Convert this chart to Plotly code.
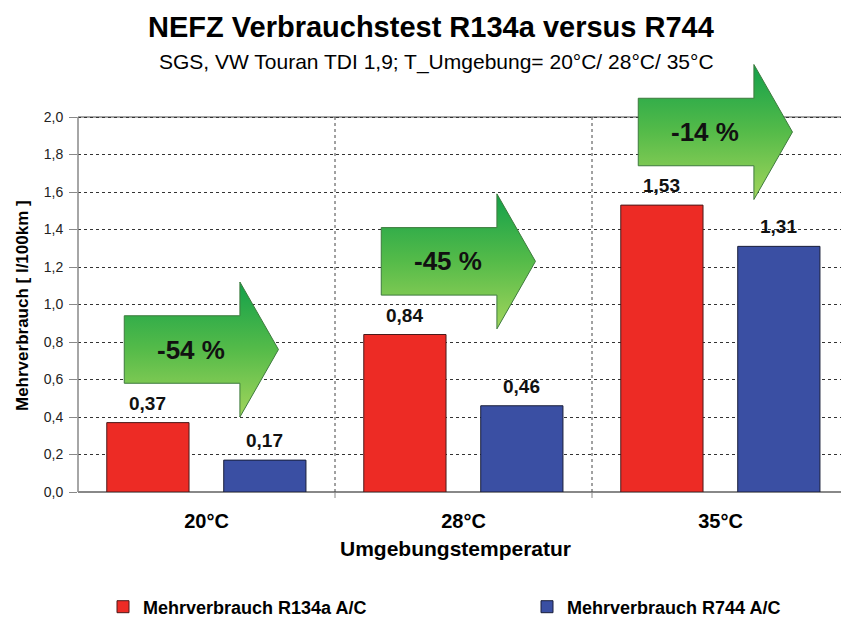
import plotly.graph_objects as go

categories = ["20°C", "28°C", "35°C"]
r134a = [0.37, 0.84, 1.53]
r744 = [0.17, 0.46, 1.31]
series_names = ["Mehrverbrauch R134a A/C", "Mehrverbrauch R744 A/C"]
y_ticks = [0.0, 0.2, 0.4, 0.6, 0.8, 1.0, 1.2, 1.4, 1.6, 1.8, 2.0]

SANS = "Liberation Sans, Arial, sans-serif"

W, H = 841, 617
ML, MR, MT, MB = 78, 0, 60, 125
cat_px = 257.0
plot_w = W - ML - MR
plot_h = H - MT - MB
y_top = plot_h / 187.5
x_max = -0.5 + plot_w / cat_px


def px_x(px):
    return (px - ML) / plot_w


def px_y(py):
    return (H - MB - py) / plot_h


BAR_W = 0.32
OFF_RED = -0.388
OFF_BLUE = 0.067

xs = list(range(len(categories)))
fig = go.Figure()
fig.add_trace(go.Bar(x=xs, y=r134a, name=series_names[0], width=BAR_W, offset=OFF_RED,
                     legend="legend",
                     marker=dict(color="#ED2B25", line=dict(color="#4a1a1a", width=1))))
fig.add_trace(go.Bar(x=xs, y=r744, name=series_names[1], width=BAR_W, offset=OFF_BLUE,
                     legend="legend2",
                     marker=dict(color="#3A4FA3", line=dict(color="#1a1f3a", width=1))))

annotations = []
# value labels
for vals, off in ((r134a, OFF_RED), (r744, OFF_BLUE)):
    for i, v in enumerate(vals):
        annotations.append(dict(x=i + off + BAR_W / 2, y=v, xref="x", yref="y",
                                text=f"{v:.2f}".replace(".", ","), showarrow=False,
                                xanchor="center", yanchor="bottom", yshift=7,
                                font=dict(family=SANS, size=19, color="#111", weight="bold")))

# arrows
for i, (a, b) in enumerate(zip(r134a, r744)):
    c = a + 0.39
    ax = [i - 0.32, i + 0.13, i + 0.13, i + 0.28, i + 0.13, i + 0.13, i - 0.32, i - 0.32]
    ay = [c + 0.18, c + 0.18, c + 0.36, c, c - 0.36, c - 0.18, c - 0.18, c + 0.18]
    fig.add_trace(go.Scatter(x=ax, y=ay, mode="lines", fill="toself", showlegend=False,
                             hoverinfo="skip",
                             line=dict(color="#3d7a3d", width=1),
                             fillgradient=dict(type="vertical",
                                               colorscale=[[0, "#A2D55C"], [0.5, "#55BB49"], [1, "#13A04A"]])))
    pct = round((b - a) / a * 100)
    annotations.append(dict(x=i - 0.06, y=c, xref="x", yref="y", text=f"-{abs(pct)} %",
                            showarrow=False, xanchor="center", yanchor="middle",
                            font=dict(family=SANS, size=26, color="#111", weight="bold")))

# titles
annotations.append(dict(x=px_x(431), y=px_y(27), xref="paper", yref="paper",
                        xanchor="center", yanchor="middle",
                        text="NEFZ Verbrauchstest R134a versus R744", showarrow=False,
                        font=dict(family=SANS, size=29, color="#000", weight="bold")))
annotations.append(dict(text="SGS, VW Touran TDI 1,9; T_Umgebung= 20°C/ 28°C/ 35°C",
                        x=px_x(436), y=px_y(62), xref="paper", yref="paper", showarrow=False,
                        xanchor="center", yanchor="middle",
                        font=dict(family=SANS, size=21, color="#000")))
annotations.append(dict(text="Umgebungstemperatur", x=px_x(455), y=px_y(548),
                        xref="paper", yref="paper", showarrow=False,
                        xanchor="center", yanchor="middle",
                        font=dict(family=SANS, size=21, color="#000", weight="bold")))
annotations.append(dict(text="Mehrverbrauch [ l/100km ]", x=px_x(22), y=px_y(306),
                        xref="paper", yref="paper", textangle=-90, showarrow=False,
                        xanchor="center", yanchor="middle",
                        font=dict(family=SANS, size=17, color="#000", weight="bold")))

shapes = []
for sx in (0.5, 1.5):
    shapes.append(dict(type="line", xref="x", yref="y", x0=sx, x1=sx, y0=0, y1=2.0,
                       line=dict(color="#444", width=1, dash="dot"), layer="between"))
    shapes.append(dict(type="line", xref="x", yref="paper", x0=sx, x1=sx,
                       ysizemode="pixel", yanchor=0, y0=-6, y1=0,
                       line=dict(color="#888", width=1)))
shapes.append(dict(type="line", xref="paper", yref="y", x0=0, x1=0, y0=0, y1=2.0,
                   line=dict(color="#888", width=1.5)))
shapes.append(dict(type="line", xref="paper", yref="y", x0=0, x1=1, y0=2.0, y1=2.0,
                   line=dict(color="#888", width=1.5), layer="between"))

legend_font = dict(family=SANS, size=18, color="#000", weight="bold")
fig.update_layout(
    width=W, height=H,
    margin=dict(l=ML, r=MR, t=MT, b=MB, autoexpand=False),
    paper_bgcolor="white", plot_bgcolor="white",
    barmode="overlay",
    separators=",.",
    showlegend=True,
    legend=dict(orientation="h", x=px_x(103), xanchor="left",
                y=px_y(607), yanchor="middle", font=legend_font, bgcolor="rgba(0,0,0,0)"),
    legend2=dict(orientation="h", x=px_x(527), xanchor="left",
                 y=px_y(607), yanchor="middle", font=legend_font, bgcolor="rgba(0,0,0,0)"),
    xaxis=dict(range=[-0.5, x_max], tickvals=xs, ticktext=categories,
               showgrid=False, zeroline=False, showline=False, ticks="",
               ticklabelstandoff=15,
               tickfont=dict(family=SANS, size=20, color="#000", weight="bold")),
    yaxis=dict(range=[0, y_top], tickvals=y_ticks, tickformat=".1f",
               showgrid=True, gridcolor="#333", griddash="3px,3px", gridwidth=1,
               zeroline=True, zerolinecolor="#888", zerolinewidth=1.5,
               showline=False, ticks="outside", ticklen=8, tickcolor="#888",
               ticklabelstandoff=3,
               tickfont=dict(family=SANS, size=14, color="#222")),
    annotations=annotations,
    shapes=shapes,
)

fig.write_html("out.html", config={"displayModeBar": False},
               post_script="document.body.style.margin='0';document.body.style.overflow='hidden';")
